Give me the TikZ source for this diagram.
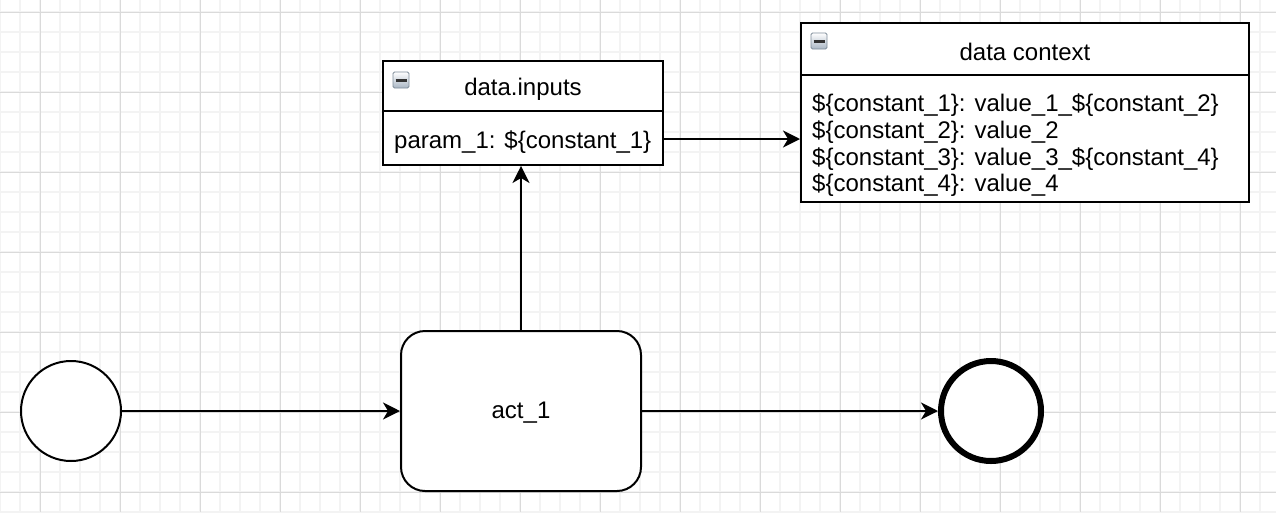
\documentclass[tikz,border=0pt]{standalone}
\usepackage{fontspec}
\setmainfont{Liberation Sans}
\usetikzlibrary{arrows.meta}
\definecolor{gridminor}{HTML}{F3F3F3}
\definecolor{gridmajor}{HTML}{DADADA}
\definecolor{iconedge}{HTML}{7F8D9A}
\definecolor{iconfill}{HTML}{A9B6C4}
\definecolor{icondark}{HTML}{333333}
\begin{document}
\begin{tikzpicture}[x=1pt, y=-1pt,
	label text/.style={font=\fontsize{24}{26.7}\selectfont, inner sep=0pt},
	flow/.style={line width=2pt, -{Stealth[length=17pt, width=17pt, inset=5pt]}},
	databox/.style={draw, line width=2pt, fill=white, inner sep=0pt},
	collapse icon/.style={draw=iconedge, line width=0.8pt, rounded corners=1.5pt,
		top color=white, bottom color=iconfill, minimum size=16pt, inner sep=0pt,
		path picture={\draw[icondark, line width=3pt]
			([xshift=-5.5pt]path picture bounding box.center) --
			([xshift=5.5pt]path picture bounding box.center);}}]
	% Background and grid
	\fill[white] (0,0) rectangle (1276,512);
	\useasboundingbox (0,0) rectangle (1276,512);
	\foreach \x in {0,20,...,1276} \draw[gridminor, line width=1.5pt] (\x,0) -- (\x,512);
	\foreach \y in {-8,12,...,512} \draw[gridminor, line width=1.5pt] (0,\y) -- (1276,\y);
	\foreach \x in {40,120,...,1276} \draw[gridmajor, line width=1pt] (\x,0) -- (\x,512);
	\foreach \y in {12,92,...,512} \draw[gridmajor, line width=1pt] (0,\y) -- (1276,\y);
	% Events and task
	\node[shape=circle, draw, line width=2pt, fill=white, minimum size=100pt, inner sep=0pt] (start) at (71,411) {};
	\node[shape=rectangle, draw, line width=2pt, fill=white, rounded corners=24pt,
		minimum width=240pt, minimum height=160pt] (act) at (521,411) {};
	\node[label text] (acttext) at (521,413) {act\_1};
	\node[shape=circle, draw, line width=6pt, fill=white, minimum size=100pt, inner sep=0pt] (finish) at (991,411) {};
	% Data inputs
	\node[databox, minimum width=280pt, minimum height=104pt] (inputs) at (523,113) {};
	\draw[line width=2pt] ([yshift=-51pt]inputs.north west) -- ([yshift=-51pt]inputs.north east);
	\node[collapse icon] (inputsicon) at (401,80) {};
	\node[label text] (inputstitle) at (523,89) {data.inputs};
	\node[label text, anchor=west] (param) at (394,142) {param\_1: \$\{constant\_1\}};
	% Data context
	\node[databox, minimum width=448pt, minimum height=179pt] (context) at (1025,112.5) {};
	\draw[line width=2pt] ([yshift=-53pt]context.north west) -- ([yshift=-53pt]context.north east);
	\node[collapse icon] (contexticon) at (819,41) {};
	\node[label text] (contexttitle) at (1025,52) {data context};
	\node[label text, anchor=west] (const1) at (812,105) {\$\{constant\_1\}: value\_1\_\$\{constant\_2\}};
	\node[label text, anchor=west] (const2) at (812,132) {\$\{constant\_2\}: value\_2};
	\node[label text, anchor=west] (const3) at (812,159) {\$\{constant\_3\}: value\_3\_\$\{constant\_4\}};
	\node[label text, anchor=west] (const4) at (812,185) {\$\{constant\_4\}: value\_4};
	% Connections
	\draw[flow] (start) -- (act);
	\draw[flow] (act) -- (finish);
	\draw[flow] (act.north) -- (act.north |- inputs.south);
	\draw[flow] (inputs.east |- 0,139) -- (context.west |- 0,139);
\end{tikzpicture}
\end{document}
